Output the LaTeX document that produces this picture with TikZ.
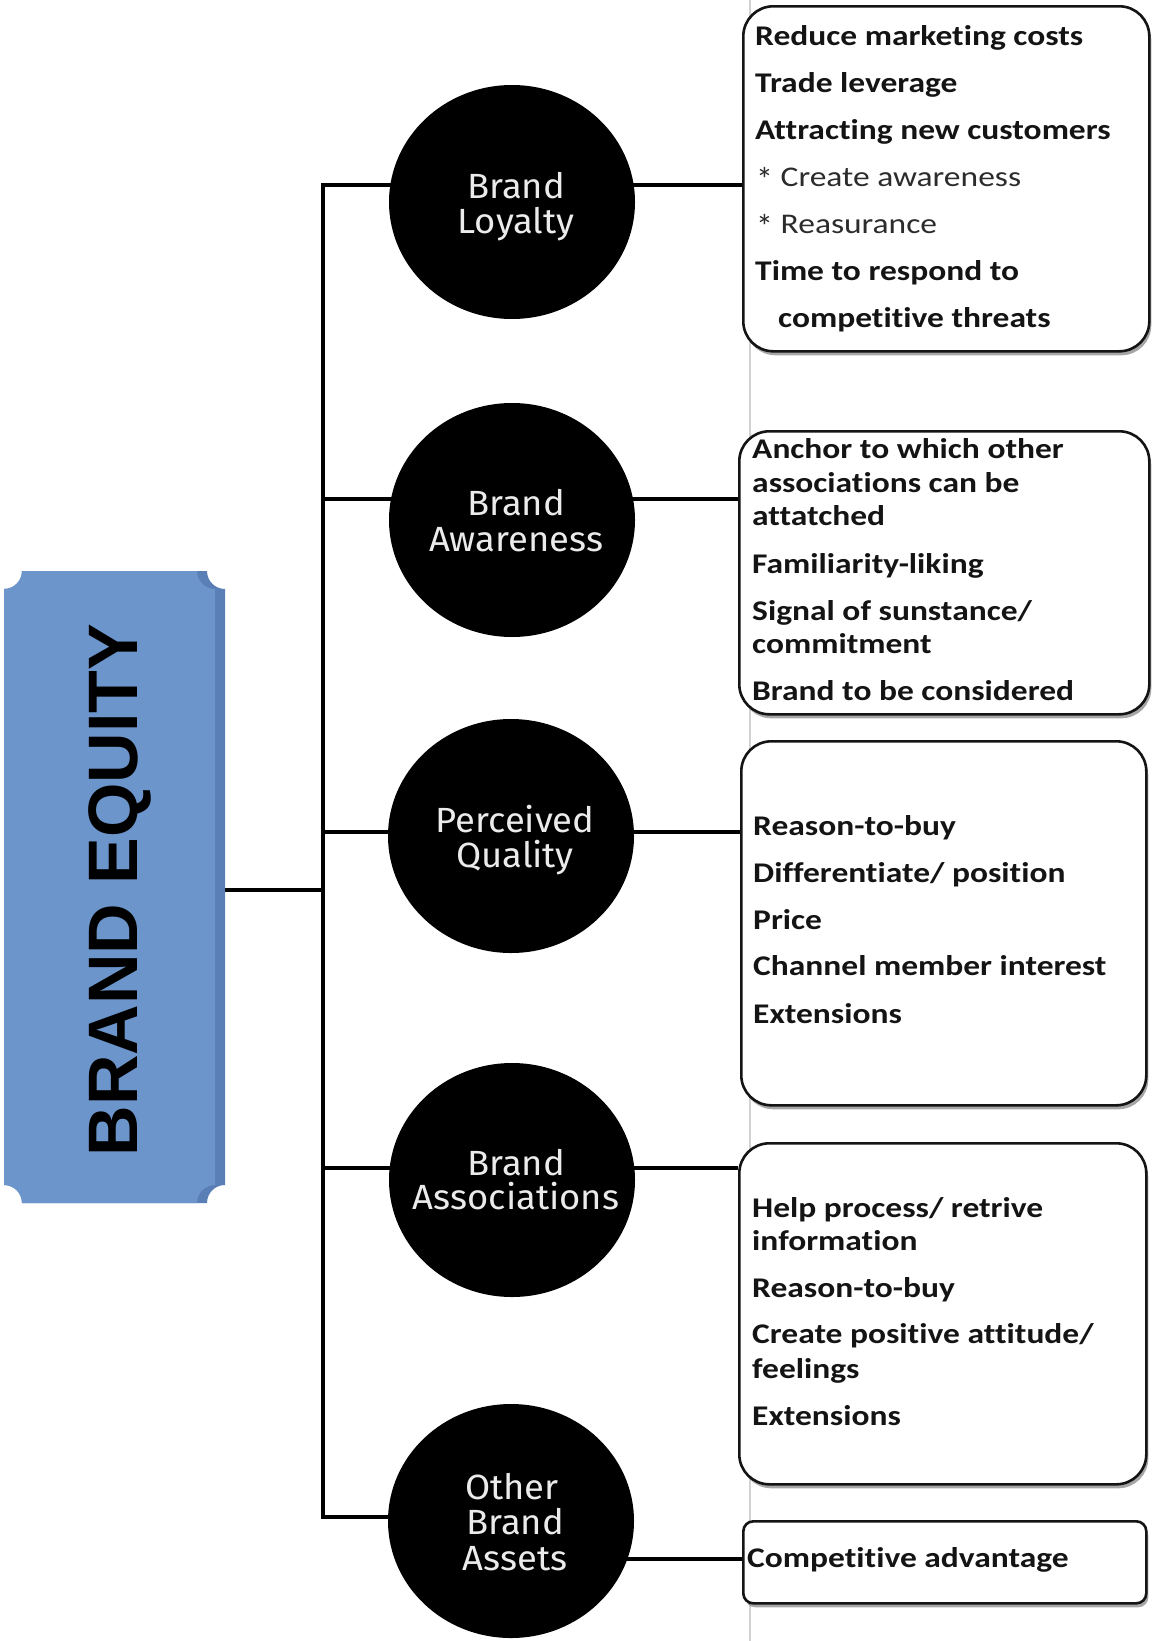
\documentclass[tikz,border=0pt]{standalone}
\usepackage{fontspec}
\setmainfont{Carlito}
\newfontfamily\boxfont[FakeStretch=1.175,Ligatures=NoCommon]{Carlito}
\newfontfamily\circfont[FakeStretch=1.04]{Fira Sans}
\newfontfamily\eqfont{Liberation Sans}
\usetikzlibrary{shapes.geometric,shadows}
\pgfdeclarelayer{bg}
\pgfsetlayers{bg,main}
\definecolor{plaque}{HTML}{6B95CB}
\definecolor{plaquedk}{HTML}{5A7FB6}
\definecolor{ink}{HTML}{141414}
\definecolor{pagegray}{HTML}{D2D2D2}
\definecolor{circtext}{HTML}{EBEBEB}
\newcommand{\bulletstar}{\raisebox{-5pt}{\addfontfeature{FakeStretch=1}\fontsize{34}{34}\selectfont *}}
\tikzset{
  infobox/.style={draw=ink, line width=2.6pt, fill=white, rounded corners=30pt, inner sep=0pt, anchor=north west,
    drop shadow={shadow xshift=2pt, shadow yshift=-4pt, opacity=0.35, fill=black}},
  bubble/.style={ellipse, fill=black, minimum width=246pt, minimum height=234pt, inner sep=0pt},
  bubbletext/.style={anchor=base, font=\circfont\fontsize{35}{36}\selectfont, text=circtext, inner sep=0pt},
  itembf/.style={anchor=base west, font=\boxfont\bfseries\fontsize{28.5}{30}\selectfont, text=ink, inner sep=0pt},
  itemrg/.style={anchor=base west, font=\boxfont\fontsize{28.5}{30}\selectfont, text=ink!90, inner sep=0pt},
  link/.style={draw=black, line width=3.8pt, line join=miter},
}
\begin{document}
\begin{tikzpicture}[x=1pt,y=-1pt]
\useasboundingbox (0,0) rectangle (1152,1641);

% Brand equity plaque
\fill[plaquedk] (22,571) -- (207,571) arc[start angle=180,end angle=90,radius=18]
  -- (225,1185) arc[start angle=270,end angle=180,radius=18]
  -- (22,1203) arc[start angle=0,end angle=-90,radius=18]
  -- (4,589) arc[start angle=90,end angle=0,radius=18] -- cycle;
\fill[plaque] (22,571) -- (197,571) arc[start angle=180,end angle=90,radius=18]
  -- (215,1185) arc[start angle=270,end angle=180,radius=18]
  -- (22,1203) arc[start angle=0,end angle=-90,radius=18]
  -- (4,589) arc[start angle=90,end angle=0,radius=18] -- cycle;
\node[rotate=90, font=\eqfont\bfseries\fontsize{70}{70}\selectfont, text=black, inner sep=0pt] (betext) at (120,890) {BRAND EQUITY};
\coordinate (eq) at (225,890);

% boxes
\node[infobox, minimum width=406pt, minimum height=345pt] (b1) at (742,5) {};
\node[infobox, minimum width=410pt, minimum height=283pt] (b2) at (738,430) {};
\node[infobox, minimum width=405pt, minimum height=364pt] (b3) at (740,740) {};
\node[infobox, minimum width=407pt, minimum height=341pt] (b4) at (738,1142) {};
\node[infobox, rounded corners=10pt, minimum width=403pt, minimum height=82pt] (b5) at (742,1520) {};

% circles
\node[bubble] (bl) at (512,202) {};
\node[bubble] (ba) at (512,520) {};
\node[bubble] (pq) at (511,836) {};
\node[bubble] (bas) at (512,1180) {};
\node[bubble] (ob) at (511,1521) {};

\node[bubbletext] (bl1) at (516,198) {Brand};
\node[bubbletext] (bl2) at (516,233) {Loyalty};
\node[bubbletext] (ba1) at (516,515) {Brand};
\node[bubbletext] (ba2) at (516,551) {Awareness};
\node[bubbletext] (pq1) at (515,832) {Perceived};
\node[bubbletext] (pq2) at (515,867) {Quality};
\node[bubbletext] (bas1) at (516,1175) {Brand};
\node[bubbletext] (bas2) at (516,1209) {Associations};
\node[bubbletext] (ob1) at (512,1499) {Other};
\node[bubbletext] (ob2) at (515,1534) {Brand};
\node[bubbletext] (ob3) at (515,1570) {Assets};

% box texts
\node[itembf] (t11) at (755,45) {Reduce marketing costs};
\node[itembf] (t12) at (755,92) {Trade leverage};
\node[itembf] (t13) at (755,139) {Attracting new customers};
\node[itemrg] (t14) at (756,186) {\bulletstar{} Create awareness};
\node[itemrg] (t15) at (756,233) {\bulletstar{} Reasurance};
\node[itembf] (t16) at (755,280) {Time to respond to};
\node[itembf] (t17) at (778,327) {competitive threats};

\node[itembf] (t21) at (752,458) {Anchor to which other};
\node[itembf] (t22) at (752,492) {associations can be};
\node[itembf] (t23) at (752,525) {attatched};
\node[itembf] (t24) at (752,573) {Familiarity-liking};
\node[itembf] (t25) at (752,620) {Signal of sunstance/};
\node[itembf] (t26) at (752,653) {commitment};
\node[itembf] (t27) at (752,700) {Brand to be considered};

\node[itembf] (t31) at (753,835) {Reason-to-buy};
\node[itembf] (t32) at (753,882) {Differentiate/ position};
\node[itembf] (t33) at (753,929) {Price};
\node[itembf] (t34) at (753,975) {Channel member interest};
\node[itembf] (t35) at (753,1023) {Extensions};

\node[itembf] (t41) at (752,1217) {Help process/ retrive};
\node[itembf] (t42) at (752,1250) {information};
\node[itembf] (t43) at (752,1297) {Reason-to-buy};
\node[itembf] (t44) at (752,1343) {Create positive attitude/};
\node[itembf] (t45) at (752,1378) {feelings};
\node[itembf] (t46) at (752,1425) {Extensions};

\node[itembf] (t51) at (747,1567) {Competitive advantage};

\begin{pgfonlayer}{bg}
  \fill[white] (0,0) rectangle (1152,1641);
  \coordinate (pg1) at (750,0);
  \coordinate (pg2) at (750,1641);
  \draw[pagegray, line width=1.5pt] (pg1) -- (pg2);
  \coordinate (tr1) at (323,185);
  \coordinate (tr2) at (323,499);
  \coordinate (tr3) at (323,832);
  \coordinate (tr4) at (323,1168);
  \coordinate (tr5) at (323,1517);
  \coordinate (k5) at (323,1559);
  \draw[link] (tr1 -| bl.center) -- (tr1) -- (tr5) -- (tr5 -| ob.center);
  \draw[link] (tr2) -- (tr2 -| ba.center);
  \draw[link] (tr3) -- (tr3 -| pq.center);
  \draw[link] (tr4) -- (tr4 -| bas.center);
  \draw[link] (eq) -- (eq -| tr1);
  \draw[link] (tr1 -| bl.center) -- (tr1 -| b1.west);
  \draw[link] (tr2 -| ba.center) -- (tr2 -| b2.west);
  \draw[link] (tr3 -| pq.center) -- (tr3 -| b3.west);
  \draw[link] (tr4 -| bas.center) -- (tr4 -| b4.west);
  \draw[link] (k5 -| ob.center) -- (k5 -| b5.west);
\end{pgfonlayer}
\end{tikzpicture}
\end{document}
